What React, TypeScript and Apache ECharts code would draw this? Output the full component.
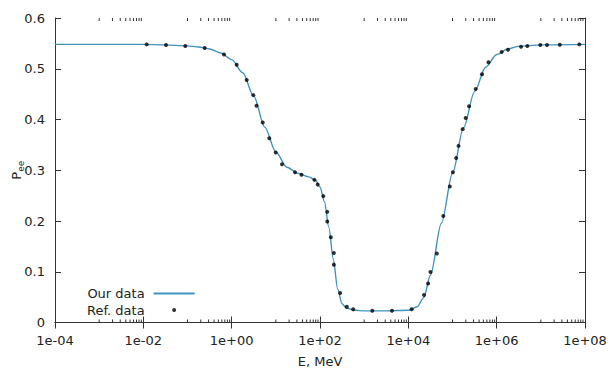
import React, { useEffect, useRef } from "react";
import * as echarts from "echarts";

// Smooth curve ("Our data"): energy E (MeV) and survival probability Pee
const lineE = [1e-4, 1e-3, 1e-2, 3.16e-2, 0.1, 0.178, 0.316, 0.562, 1, 1.78, 3.16, 5.62, 10, 17.8, 31.6, 56.2, 79.4, 100, 126, 158, 200, 251, 316, 398, 631, 1000, 3160, 1e4, 15800, 22400, 31600, 56200, 1e5, 1.78e5, 3.16e5, 5.62e5, 1e6, 1.78e6, 3.16e6, 1e7, 1e8];
const linePee = [0.548, 0.548, 0.548, 0.547, 0.545, 0.543, 0.539, 0.531, 0.518, 0.492, 0.446, 0.385, 0.336, 0.306, 0.294, 0.287, 0.28, 0.267, 0.238, 0.188, 0.125, 0.066, 0.037, 0.028, 0.024, 0.023, 0.023, 0.024, 0.031, 0.049, 0.093, 0.196, 0.294, 0.384, 0.455, 0.503, 0.528, 0.539, 0.544, 0.547, 0.548];

// Reference points ("Ref. data")
const refE = [1.19e-2, 3.26e-2, 8.91e-2, 0.245, 0.67, 1.3, 2.19, 3.09, 3.65, 5.05, 7.11, 9.93, 13.8, 27.2, 38.1, 75, 88.7, 119, 146, 146, 176, 206, 206, 286, 405, 565, 1530, 4270, 11900, 22600, 28100, 31800, 44200, 61900, 86900, 1.02e5, 1.21e5, 1.37e5, 1.7e5, 1.99e5, 2.37e5, 3.35e5, 4.66e5, 6.53e5, 1.3e6, 1.81e6, 3.56e6, 4.94e6, 9.73e6, 1.38e7, 2.69e7, 7.43e7];
const refPee = [0.548, 0.547, 0.545, 0.541, 0.528, 0.508, 0.478, 0.448, 0.427, 0.394, 0.363, 0.335, 0.312, 0.296, 0.291, 0.281, 0.272, 0.249, 0.218, 0.199, 0.168, 0.137, 0.114, 0.058, 0.031, 0.026, 0.023, 0.023, 0.026, 0.054, 0.077, 0.0995, 0.136, 0.21, 0.268, 0.296, 0.324, 0.348, 0.381, 0.403, 0.426, 0.46, 0.489, 0.513, 0.533, 0.5375, 0.5434, 0.5448, 0.5468, 0.5468, 0.5472, 0.548];

// Minor tick positions on the x axis (between labelled major ticks)
const minorDecades = [1e-3, 1e-1, 1e1, 1e3, 1e5, 1e7];
const minorMultipliers = [1, 2, 3, 4, 5, 6, 7, 8, 9];

const seriesNames = ["Our data", "Ref. data"];
const xName = "E, MeV";

const FONT = "DejaVu Sans";
const TEXT = "#222";
const FRAME = "#333";
const LINE_COLOR = "#3f93c0";

function fmtExp(v: number): string {
  const e = Math.round(Math.log10(v));
  const s = e < 0 ? "-" : "+";
  return "1e" + s + String(Math.abs(e)).padStart(2, "0");
}

export default function App() {
  const ref = useRef<HTMLDivElement>(null);
  useEffect(() => {
    if (!ref.current) return;
    const chart = echarts.init(ref.current, null, { renderer: "svg" });
    const minorTicks: number[][] = [];
    minorDecades.forEach((d) => minorMultipliers.forEach((m) => minorTicks.push([m * d, 0])));
    const xCommon = {
      type: "log" as const,
      logBase: 100,
      min: 1e-4,
      max: 1e8,
      splitLine: { show: false },
      axisLine: { show: true, lineStyle: { color: FRAME, width: 1 } },
      axisTick: { show: true, inside: true, length: 6, lineStyle: { color: FRAME } },
      minorTick: { show: false },
    };
    const yCommon = {
      type: "value" as const,
      min: 0,
      max: 0.6,
      interval: 0.1,
      splitLine: { show: false },
      axisLine: { show: true, lineStyle: { color: FRAME, width: 1 } },
      axisTick: { show: true, inside: true, length: 6, lineStyle: { color: FRAME } },
    };
    chart.setOption({
      animation: false,
      backgroundColor: "#fff",
      textStyle: { fontFamily: FONT },
      grid: { left: 55, right: 23, top: 18, bottom: 47.5, containLabel: false, outerBoundsMode: "none" },
      legend: {
        data: [
          { name: seriesNames[0], itemStyle: { color: "rgba(0,0,0,0)", borderWidth: 0 } },
          { name: seriesNames[1], icon: "circle" },
        ],
        orient: "vertical",
        left: 82,
        top: 282,
        align: "right",
        itemWidth: 41,
        itemHeight: 4,
        itemGap: 3.5,
        selectedMode: false,
        textStyle: { fontFamily: FONT, fontSize: 13, color: TEXT, padding: [0, 4, 0, 0] },
      },
      xAxis: [
        {
          ...xCommon,
          position: "bottom",
          name: xName,
          nameLocation: "middle",
          nameGap: 32,
          nameMoveOverlap: false,
          nameTextStyle: { fontFamily: FONT, fontSize: 13, color: TEXT },
          axisLabel: { show: true, margin: 11, fontFamily: FONT, fontSize: 13, color: TEXT, formatter: (v: number) => fmtExp(v) },
        },
        { ...xCommon, position: "top", axisLabel: { show: false } },
      ],
      yAxis: [
        {
          ...yCommon,
          position: "left",
          name: "{p|P}{s|ee}",
          nameLocation: "middle",
          nameRotate: 90,
          nameGap: 30,
          nameMoveOverlap: false,
          nameTextStyle: {
            color: TEXT,
            rich: {
              p: { fontFamily: FONT, fontSize: 13, color: TEXT, lineHeight: 18 },
              s: { fontFamily: FONT, fontSize: 9, color: TEXT, lineHeight: 9, verticalAlign: "bottom" },
            },
          },
          axisLabel: { show: true, margin: 10, fontFamily: FONT, fontSize: 13, color: TEXT },
        },
        { ...yCommon, position: "right", axisLabel: { show: false } },
      ],
      series: [
        {
          name: seriesNames[0],
          type: "line",
          xAxisIndex: 0,
          yAxisIndex: 0,
          data: lineE.map((e, i) => [e, linePee[i]]),
          symbol: "none",
          smooth: 0.3,
          smoothMonotone: "x",
          lineStyle: { color: LINE_COLOR, width: 1.4 },
          itemStyle: { color: LINE_COLOR },
          z: 2,
        },
        {
          name: seriesNames[1],
          type: "scatter",
          xAxisIndex: 0,
          yAxisIndex: 0,
          data: refE.map((e, i) => [e, refPee[i]]),
          symbol: "circle",
          symbolSize: 4,
          itemStyle: { color: "#000" },
          z: 3,
        },
        {
          name: "minorTicks",
          type: "custom",
          xAxisIndex: 0,
          yAxisIndex: 0,
          silent: true,
          data: minorTicks,
          renderItem: (params: any, api: any) => {
            const x = api.coord([api.value(0), 0])[0];
            const cs = params.coordSys;
            const yb = cs.y + cs.height;
            return {
              type: "group",
              children: [
                { type: "line", shape: { x1: x, y1: yb, x2: x, y2: yb - 3 }, style: { stroke: FRAME, lineWidth: 1 } },
                { type: "line", shape: { x1: x, y1: cs.y, x2: x, y2: cs.y + 3 }, style: { stroke: FRAME, lineWidth: 1 } },
              ],
            };
          },
          z: 4,
        },
      ],
    });
    return () => chart.dispose();
  }, []);
  return <div ref={ref} style={{ position: "fixed", left: 0, top: 0, width: 608, height: 370 }} />;
}
